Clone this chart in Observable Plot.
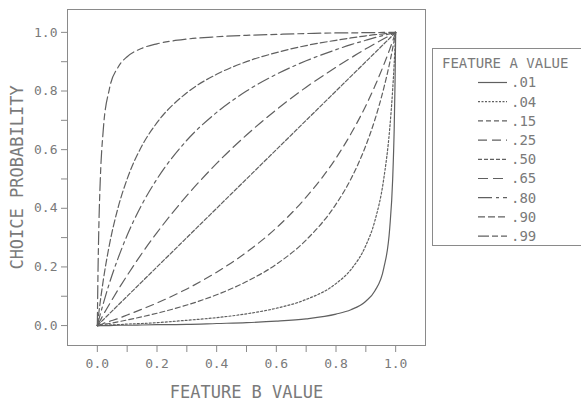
<!DOCTYPE html>
<html>
<head>
<meta charset="utf-8">
<script src="https://cdn.jsdelivr.net/npm/d3@7"></script>
<script src="https://cdn.jsdelivr.net/npm/@observablehq/plot@0.6"></script>
<style>
  html, body { margin: 0; padding: 0; background: #fff; }
  #wrap { position: relative; width: 581px; height: 408px; overflow: hidden; background: #fff; }
  #wrap svg.plot { position: absolute; left: 0; top: 0; }
  g[aria-label="x-axis label"] text, g[aria-label="y-axis label"] text { font-size: 17px; }
  #legend { position: absolute; left: 432px; top: 48px; width: 170px; height: 196px; border: 1px solid #8a8a8a; background: #fff; }
</style>
</head>
<body>
<div id="wrap"></div>
<script>
// Feature B values (x) and choice probabilities (y)
const featureB = [0, 0.002, 0.005, 0.01, 0.02, 0.04, 0.07, 0.1, 0.15, 0.2, 0.3, 0.4, 0.5, 0.6, 0.7, 0.8, 0.85, 0.9, 0.93, 0.96, 0.98, 0.99, 0.995, 0.998, 1];
const p01 = [0, 0.000, 0.000, 0.000, 0.000, 0.000, 0.001, 0.001, 0.002, 0.003, 0.004, 0.007, 0.010, 0.015, 0.023, 0.039, 0.054, 0.083, 0.118, 0.195, 0.331, 0.500, 0.668, 0.834, 1];
const p04 = [0, 0.000, 0.000, 0.000, 0.001, 0.002, 0.003, 0.005, 0.007, 0.010, 0.018, 0.027, 0.040, 0.059, 0.089, 0.143, 0.191, 0.273, 0.356, 0.500, 0.671, 0.805, 0.892, 0.954, 1];
const p15 = [0, 0.000, 0.001, 0.002, 0.004, 0.007, 0.013, 0.019, 0.030, 0.042, 0.070, 0.105, 0.150, 0.209, 0.292, 0.414, 0.500, 0.614, 0.701, 0.809, 0.896, 0.946, 0.972, 0.989, 1];
const p25 = [0, 0.001, 0.002, 0.003, 0.007, 0.014, 0.024, 0.036, 0.056, 0.077, 0.125, 0.182, 0.250, 0.333, 0.438, 0.571, 0.654, 0.750, 0.816, 0.889, 0.942, 0.971, 0.985, 0.994, 1];
const p50 = [0, 0.002, 0.005, 0.010, 0.020, 0.040, 0.070, 0.100, 0.150, 0.200, 0.300, 0.400, 0.500, 0.600, 0.700, 0.800, 0.850, 0.900, 0.930, 0.960, 0.980, 0.990, 0.995, 0.998, 1];
const p65 = [0, 0.004, 0.009, 0.018, 0.037, 0.072, 0.123, 0.171, 0.247, 0.317, 0.443, 0.553, 0.650, 0.736, 0.813, 0.881, 0.913, 0.944, 0.961, 0.978, 0.989, 0.995, 0.997, 0.999, 1];
const p80 = [0, 0.008, 0.020, 0.039, 0.075, 0.143, 0.231, 0.308, 0.414, 0.500, 0.632, 0.727, 0.800, 0.857, 0.903, 0.941, 0.958, 0.973, 0.982, 0.990, 0.995, 0.997, 0.999, 1.000, 1];
const p90 = [0, 0.018, 0.043, 0.083, 0.155, 0.273, 0.404, 0.500, 0.614, 0.692, 0.794, 0.857, 0.900, 0.931, 0.955, 0.973, 0.981, 0.988, 0.992, 0.995, 0.998, 0.999, 0.999, 1.000, 1];
const p99 = [0, 0.166, 0.332, 0.500, 0.669, 0.805, 0.882, 0.917, 0.946, 0.961, 0.977, 0.985, 0.990, 0.993, 0.996, 0.998, 0.998, 0.999, 0.999, 1.000, 1.000, 1.000, 1.000, 1.000, 1];

const featureA = [".01", ".04", ".15", ".25", ".50", ".65", ".80", ".90", ".99"];
const seriesValues = [p01, p04, p15, p25, p50, p65, p80, p90, p99];

const xMajorTicks = [0, 0.2, 0.4, 0.6, 0.8, 1.0];
const xMinorTicks = [0.1, 0.3, 0.5, 0.7, 0.9];
const yMajorTicks = [0, 0.2, 0.4, 0.6, 0.8, 1.0];
const yMinorTicks = [0.1, 0.3, 0.5, 0.7, 0.9];

// styles (not data)
const dashStyles = ["none", "2,2", "5,3", "8,5", "4,2", "10,5", "12,4,3,4", "7,3", "13,4,6,4"];
const legendDash = ["none", "2,1.5", "5,3", "9,5", "4,2", "10,5", "14,4,3,4", "7,3", "11,3,6,3"];
const ink = "#606060";
const axisInk = "#8a8a8a";
const textInk = "#7a7a7a";
const font = "'DejaVu Sans Mono', monospace";

const lineMarks = seriesValues.map((vals, i) =>
  Plot.line(featureB.map((b, j) => ({b, p: vals[j], a: featureA[i]})), {
    x: "b", y: "p", stroke: ink, strokeWidth: 1.2,
    strokeDasharray: dashStyles[i], curve: "monotone-x"
  })
);

const chart = Plot.plot({
  width: 581,
  height: 408,
  marginLeft: 67,
  marginRight: 156,
  marginTop: 9,
  marginBottom: 63,
  style: {fontFamily: font, fontSize: "13px", color: textInk, background: "#fff"},
  x: {domain: [-0.1, 1.1]},
  y: {domain: [-0.068, 1.078]},
  marks: [
    Plot.frame({stroke: axisInk}),
    Plot.axisX({ticks: xMajorTicks, tickFormat: d3.format(".1f"), tickSize: 7, tickPadding: 6, stroke: axisInk,
      label: "FEATURE B VALUE", labelAnchor: "center", labelArrow: "none", labelOffset: 52}),
    Plot.axisX({ticks: xMinorTicks, tickFormat: null, text: null, tickSize: 7, stroke: axisInk, label: null}),
    Plot.axisY({ticks: yMajorTicks, tickFormat: d3.format(".1f"), tickSize: 6, tickPadding: 4, stroke: axisInk,
      label: "CHOICE PROBABILITY", labelAnchor: "center", labelArrow: "none", labelOffset: 57}),
    Plot.axisY({ticks: yMinorTicks, tickFormat: null, text: null, tickSize: 6, stroke: axisInk, label: null}),
    ...lineMarks
  ]
});
chart.classList.add("plot");
const wrap = document.getElementById("wrap");
wrap.appendChild(chart);

// Legend
const legend = d3.select(wrap).append("div").attr("id", "legend");
const lsvg = legend.append("svg").attr("width", 170).attr("height", 196)
  .style("font-family", font).style("font-size", "14px").style("fill", textInk);
lsvg.append("text").attr("x", 9).attr("y", 14).attr("dy", "0.35em").text("FEATURE A VALUE");
featureA.forEach((a, i) => {
  const y = 33.5 + i * 19.2;
  lsvg.append("line").attr("x1", 45).attr("x2", 74).attr("y1", y).attr("y2", y)
    .attr("stroke", ink).attr("stroke-width", 1.2).attr("stroke-dasharray", legendDash[i]);
  lsvg.append("text").attr("x", 78).attr("y", y).attr("dy", "0.35em").text(a);
});
</script>
</body>
</html>
